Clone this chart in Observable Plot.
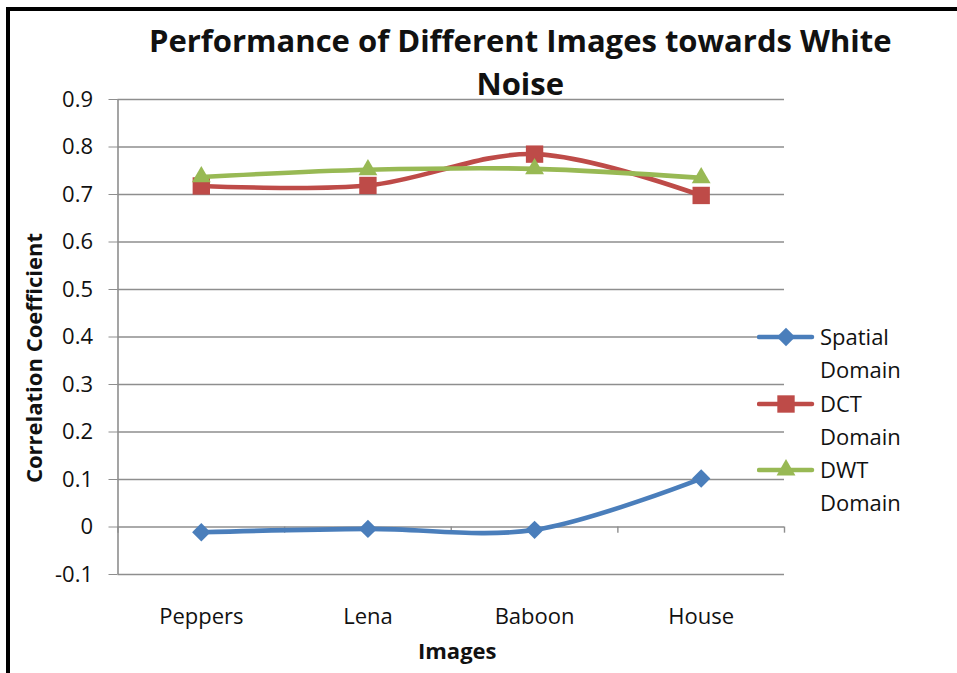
<!DOCTYPE html>
<html>
<head>
<meta charset="utf-8">
<script src="https://cdn.jsdelivr.net/npm/d3@7"></script>
<script src="https://cdn.jsdelivr.net/npm/@observablehq/plot@0.6"></script>
<style>
  body { margin: 0; background: #fff; }
  #wrap { position: relative; width: 957px; height: 673px; overflow: hidden; font-family: "Open Sans", "Noto Sans", sans-serif; color: #111; }
  #frame { position: absolute; left: 6px; top: 7px; right: -20px; bottom: -20px; border-left: 4px solid #000; border-top: 4px solid #000; pointer-events: none; }
  #chart { position: absolute; left: 0; top: 0; }
  #legend { position: absolute; left: 757px; top: 320px; }
  .item { position: relative; height: 66.5px; }
  .item svg { position: absolute; left: 0; top: 6px; }
  .item .lbl { position: absolute; left: 63px; top: 0; font-size: 22px; line-height: 33px; white-space: nowrap; color: #111; }
</style>
</head>
<body>
<div id="wrap">
  <div id="chart"></div>
  <div id="legend"></div>
  <div id="frame"></div>
</div>
<script>
// ---- data ----
const categories = ["Peppers", "Lena", "Baboon", "House"];
const seriesNames = ["Spatial Domain", "DCT Domain", "DWT Domain"];
const spatialValues = [-0.011, -0.004, -0.006, 0.102];
const dctValues = [0.718, 0.719, 0.785, 0.698];
const dwtValues = [0.737, 0.752, 0.754, 0.735];
const yTicks = [-0.1, 0, 0.1, 0.2, 0.3, 0.4, 0.5, 0.6, 0.7, 0.8, 0.9];
const titleLines = ["Performance of Different Images towards White", "Noise"];
const xLabel = "Images";
const yLabel = "Correlation Coefficient";

// ---- styling ----
const colors = ["#4A7EBB", "#BE4B48", "#98B954"];
const symbols = ["diamond2", "square", "triangle"];
const radii = [8.3, 9.8, 7];
const gridColor = "#8e8e8e";

const valueSets = [spatialValues, dctValues, dwtValues];
const rows = valueSets.map((vals, s) => vals.map((v, i) => ({ pos: i + 1, cat: categories[i], series: seriesNames[s], value: v })));
const positions = categories.map((c, i) => i + 1);
const bounds = [0.5, ...positions.map(p => p + 0.5)];

const marks = [
  Plot.ruleY(yTicks, { stroke: gridColor, strokeWidth: 1.4 }),
  Plot.ruleX([0.5], { stroke: gridColor, strokeWidth: 1.6 }),
  Plot.ruleX(bounds, { y1: 0, y2: -0.013, stroke: gridColor, strokeWidth: 1.4 }),
  Plot.axisY({ ticks: yTicks, label: null, tickSize: 9, tickPadding: 16, stroke: gridColor, fontSize: 22, fill: "#111",
               tickFormat: d => String(+d.toFixed(1)) }),
  Plot.text(positions, { x: d => d, text: d => categories[d - 1], frameAnchor: "bottom", lineAnchor: "middle", dy: 42, fontSize: 22, fill: "#111" })
];
rows.forEach((r, s) => {
  marks.push(Plot.line(r, { x: "pos", y: "value", stroke: colors[s], strokeWidth: 4.6, curve: "catmull-rom" }));
  marks.push(Plot.dot(r, { x: "pos", y: "value", fill: colors[s], symbol: () => symbols[s], r: radii[s], stroke: "none" }));
});
marks.push(
  Plot.text([titleLines[0]], { frameAnchor: "top", lineAnchor: "middle", textAnchor: "middle", dx: 69, dy: -57, fontSize: 31, fontWeight: "bold", fill: "#111" }),
  Plot.text([titleLines[1]], { frameAnchor: "top", lineAnchor: "middle", textAnchor: "middle", dx: 69, dy: -14, fontSize: 31, fontWeight: "bold", fill: "#111" }),
  Plot.text([xLabel], { frameAnchor: "bottom", lineAnchor: "middle", textAnchor: "middle", dx: 6, dy: 77, fontSize: 22, fontWeight: "bold", fill: "#111" }),
  Plot.text([yLabel], { frameAnchor: "left", lineAnchor: "middle", textAnchor: "middle", dx: -83, dy: 21, rotate: -90, fontSize: 22, fontWeight: "bold", fill: "#111" })
);

const chart = Plot.plot({
  width: 957,
  height: 673,
  marginLeft: 117.5,
  marginRight: 173,
  marginTop: 99,
  marginBottom: 99,
  style: { fontFamily: "'Open Sans', 'Noto Sans', sans-serif", background: "transparent", overflow: "visible" },
  x: { type: "linear", domain: [0.5, 4.5], axis: null },
  y: { domain: [-0.1, 0.9], axis: null },
  symbol: { type: "identity" },
  marks
});
document.getElementById("chart").appendChild(chart);

// ---- legend ----
const legend = document.getElementById("legend");
seriesNames.forEach((name, s) => {
  const item = document.createElement("div");
  item.className = "item";
  const sym = d3.symbol(d3[{ diamond2: "symbolDiamond2", square: "symbolSquare", triangle: "symbolTriangle" }[symbols[s]]], Math.PI * radii[s] * radii[s])();
  item.innerHTML = `<svg width="58" height="22"><line x1="2" x2="55" y1="11" y2="11" stroke="${colors[s]}" stroke-width="4.5" stroke-linecap="round"/><path transform="translate(29,11)" d="${sym}" fill="${colors[s]}"/></svg>`;
  const lbl = document.createElement("div");
  lbl.className = "lbl";
  lbl.innerHTML = name.split(" ").join("<br>");
  item.appendChild(lbl);
  legend.appendChild(item);
});
</script>
</body>
</html>
